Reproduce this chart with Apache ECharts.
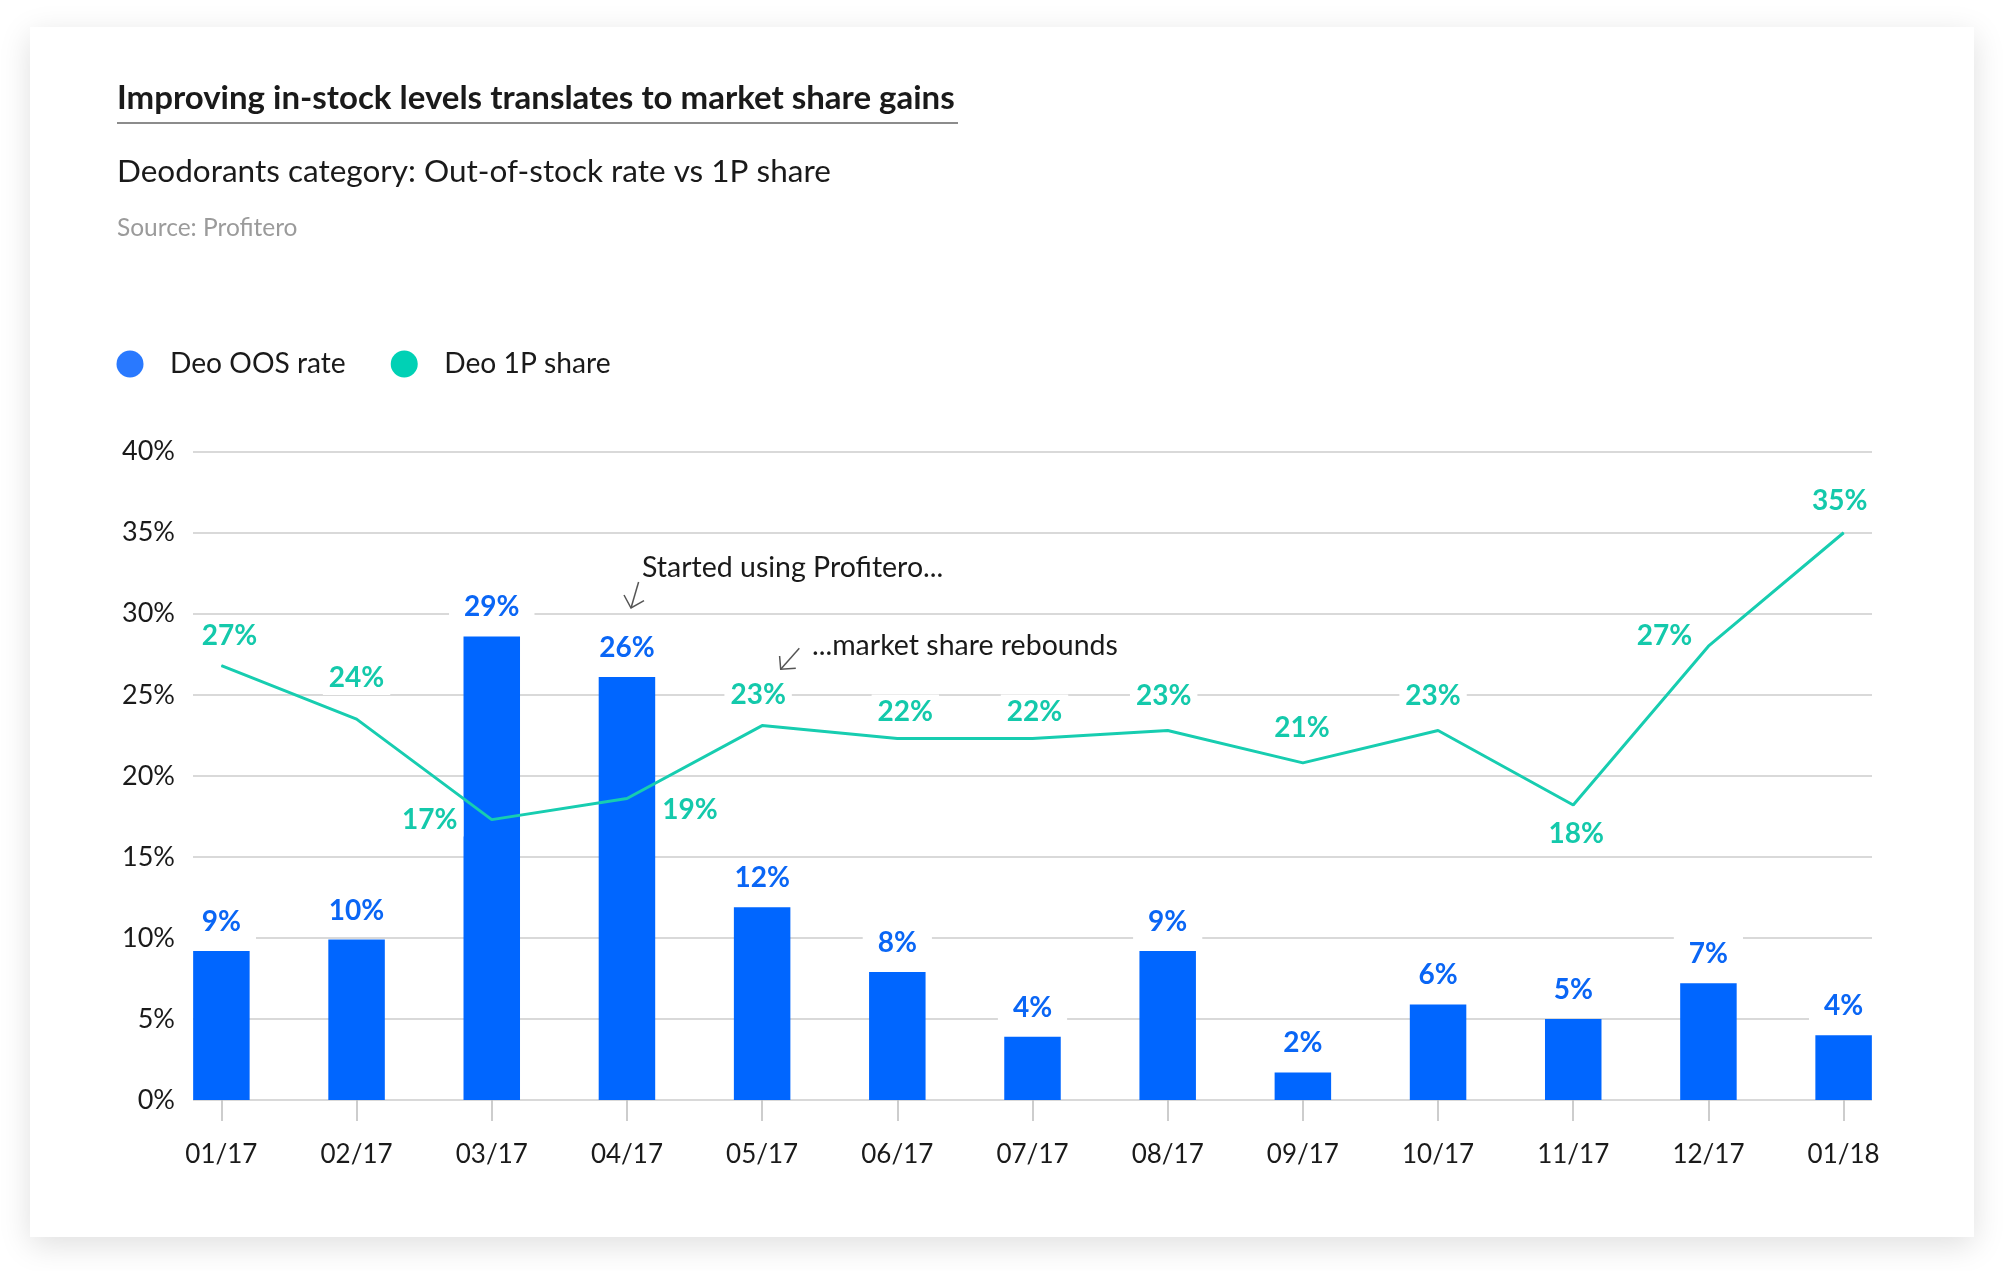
<!DOCTYPE html>
<html>
<head>
<meta charset="utf-8">
<script src="https://cdn.jsdelivr.net/npm/echarts@6/dist/echarts.min.js"></script>
<style>
  html, body { margin: 0; padding: 0; background: #ffffff; }
  #chart { width: 2003px; height: 1271px; }
</style>
</head>
<body>
<div id="chart"></div>
<script>
// ---- data ----
const categories = ['01/17','02/17','03/17','04/17','05/17','06/17','07/17','08/17','09/17','10/17','11/17','12/17','01/18'];
const oosRate = [9.2, 9.9, 28.6, 26.1, 11.9, 7.9, 3.9, 9.2, 1.7, 5.9, 5.0, 7.2, 4.0];
const oosLabels = ['9%','10%','29%','26%','12%','8%','4%','9%','2%','6%','5%','7%','4%'];
const share1P = [26.8, 23.5, 17.3, 18.6, 23.1, 22.3, 22.3, 22.8, 20.8, 22.8, 18.2, 28.0, 35.0];
const shareLabels = ['27%','24%','17%','19%','23%','22%','22%','23%','21%','23%','18%','27%','35%'];
const yMin = 0, yMax = 40, yStep = 5;
const seriesNames = ['Deo OOS rate', 'Deo 1P share'];

// ---- label placement (style, not data) ----
const shareLabelOffsets = [[8,-30],[0,-41],[-62,0],[63,11],[-4,-31],[8,-27],[2,-27],[-4,-35],[-1,-35],[-5,-35],[3,29],[-44,-10],[-4,-32]];

const BLUE = '#0066ff';
const TEAL = '#17cdb0';
const FONT = 'Lato, "Open Sans", sans-serif';
const TEXT = '#1a1a1a';

const chart = echarts.init(document.getElementById('chart'), null, { renderer: 'canvas' });

const idx = categories.map((_, i) => i);

const option = {
  backgroundColor: 'transparent',
  animation: false,
  textStyle: { fontFamily: FONT },
  graphic: [
    { type: 'rect', z: -10, shape: { x: 30, y: 27, width: 1944, height: 1210 },
      style: { fill: '#ffffff', shadowBlur: 30, shadowColor: 'rgba(0,0,0,0.13)', shadowOffsetY: 8 } },
    { type: 'text', left: 117, top: 82,
      style: { text: 'Improving in-stock levels translates to market share gains', fontFamily: FONT, fontWeight: 'bold', fontSize: 33, fill: TEXT } },
    { type: 'line', shape: { x1: 117, y1: 123, x2: 958, y2: 123 }, style: { stroke: '#666', lineWidth: 1.5 } },
    { type: 'text', left: 117, top: 156,
      style: { text: 'Deodorants category: Out-of-stock rate vs 1P share', fontFamily: FONT, fontSize: 31.5, fill: TEXT } },
    { type: 'text', left: 117, top: 216,
      style: { text: 'Source: Profitero', fontFamily: FONT, fontSize: 24.5, fill: '#9b9b9b' } },
    { type: 'text', left: 642, top: 553,
      style: { text: 'Started using Profitero...', fontFamily: FONT, fontSize: 28.5, fill: TEXT } },
    { type: 'polyline', shape: { points: [[638.6, 582], [631, 608]] }, style: { stroke: '#555', lineWidth: 1.5, fill: null } },
    { type: 'polyline', shape: { points: [[624, 595], [631, 608], [644, 600.7]] }, style: { stroke: '#555', lineWidth: 1.5, fill: null } },
    { type: 'text', left: 812, top: 631,
      style: { text: '...market share rebounds', fontFamily: FONT, fontSize: 28.5, fill: TEXT } },
    { type: 'polyline', shape: { points: [[799.3, 648.3], [780.7, 669.3]] }, style: { stroke: '#555', lineWidth: 1.5, fill: null } },
    { type: 'polyline', shape: { points: [[779.6, 656], [780.7, 669.3], [795.8, 668.3]] }, style: { stroke: '#555', lineWidth: 1.5, fill: null } }
  ],
  legend: {
    left: 116.5, top: 350, padding: 0,
    icon: 'circle', itemWidth: 27, itemHeight: 27, itemGap: 45,
    data: [
      { name: seriesNames[0], itemStyle: { color: '#2979ff' } },
      { name: seriesNames[1], itemStyle: { color: '#00d1b5' } }
    ],
    textStyle: { fontFamily: FONT, fontSize: 28.2, color: TEXT, padding: [0, 0, 0, 21.5] }
  },
  grid: { left: 193, width: 1679, top: 451.7, height: 648.3, containLabel: false },
  xAxis: {
    type: 'value', min: -0.21, max: 12.21,
    axisLine: { show: false },
    splitLine: { show: false },
    axisTick: { show: true, customValues: idx, length: 21, lineStyle: { color: '#bdbdbd', width: 1.5 } },
    axisLabel: { show: true, customValues: idx, margin: 42, fontFamily: FONT, fontSize: 26, color: TEXT,
      formatter: v => categories[Math.round(v)] }
  },
  yAxis: {
    type: 'value', min: yMin, max: yMax, interval: yStep,
    axisLine: { show: false }, axisTick: { show: false },
    axisLabel: { formatter: '{value}%', margin: 18, fontFamily: FONT, fontSize: 27, color: TEXT },
    splitLine: { lineStyle: { color: '#cccccc', width: 1.5 } }
  },
  series: [
    {
      name: seriesNames[0], type: 'bar', barWidth: 56.5, z: 2,
      itemStyle: { color: BLUE },
      data: oosRate.map((v, i) => [i, v]),
      label: {
        show: true, position: 'top', distance: 11,
        formatter: p => oosLabels[p.dataIndex],
        fontFamily: FONT, fontWeight: 'bold', fontSize: 28, color: '#0a66f5',
        backgroundColor: '#ffffff', padding: [4, 15]
      }
    },
    {
      name: seriesNames[1], type: 'line', z: 3,
      symbol: 'circle', symbolSize: 1, showSymbol: true,
      lineStyle: { color: TEAL, width: 3 },
      itemStyle: { color: TEAL },
      data: share1P.map((v, i) => ({
        value: [i, v],
        label: { offset: shareLabelOffsets[i] }
      })),
      label: {
        show: true, position: 'inside',
        formatter: p => shareLabels[p.dataIndex],
        fontFamily: FONT, fontWeight: 'bold', fontSize: 28, color: '#14c9ab',
        backgroundColor: '#ffffff', padding: [3, 6]
      }
    }
  ]
};

chart.setOption(option);
</script>
</body>
</html>
